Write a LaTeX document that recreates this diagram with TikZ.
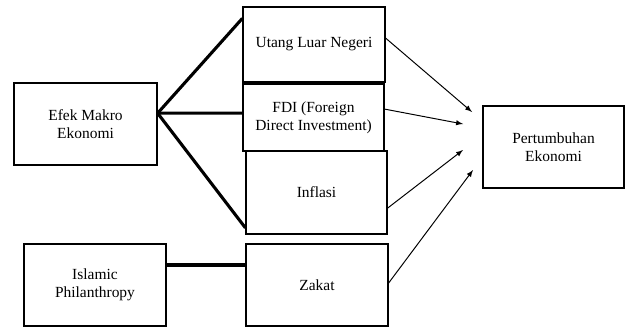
\documentclass[tikz,border=0pt]{standalone}
\usepackage{fontspec}
\setmainfont{Liberation Serif}
\usetikzlibrary{positioning}
\begin{document}
\begin{tikzpicture}[
kotak/.style={draw,line width=0.9pt,align=center,font=\fontsize{11}{13}\selectfont,inner sep=2pt},
tebal/.style={line width=2.2pt},
panah/.style={-latex,line width=0.7pt}]
\useasboundingbox(0,0)rectangle(15.65,8.275);
\node[kotak,minimum width=3.575cm,minimum height=2.05cm](EM)at(2.1375,5.175){Efek Makro\\Ekonomi};
\node[kotak,minimum width=3.55cm,minimum height=1.875cm](ULN)at(7.85,7.1625){Utang Luar Negeri};
\node[kotak,minimum width=3.525cm,minimum height=1.675cm](FDI)at(7.8375,5.3375){FDI (Foreign\\Direct Investment)};
\node[kotak,minimum width=3.525cm,minimum height=2.075cm](INF)at(7.9125,3.4625){Inflasi};
\node[kotak,minimum width=3.55cm,minimum height=2.05cm](ZK)at(7.925,1.15){Zakat};
\node[kotak,minimum width=3.55cm,minimum height=2.05cm](IP)at(2.375,1.15){Islamic\\Philanthropy};
\node[kotak,minimum width=3.525cm,minimum height=2.05cm](PE)at(13.8375,4.6){Pertumbuhan\\Ekonomi};
%%
\coordinate(S0)at([yshift=0.27cm]EM.east);
\draw[tebal](S0)--([yshift=-0.3cm]ULN.north west);
\draw[tebal](S0)--([yshift=0.11cm]FDI.west);
\draw[tebal](S0)--([yshift=0.17cm]INF.south west);
\draw[tebal](IP.east|-0,1.65)--(ZK.west|-0,1.65);
%
\coordinate(P1)at(11.8,5.475);
\coordinate(P2)at(11.575,5.175);
\coordinate(P3)at(11.575,4.525);
\coordinate(P4)at(11.825,4.025);
\draw[panah]([yshift=0.16cm]ULN.east)--(P1);
\draw[panah]([yshift=0.21cm]FDI.east)--(P2);
\draw[panah]([yshift=-0.39cm]INF.east)--(P3);
\draw[panah]([yshift=0.05cm]ZK.east)--(P4);
\end{tikzpicture}
\end{document}
